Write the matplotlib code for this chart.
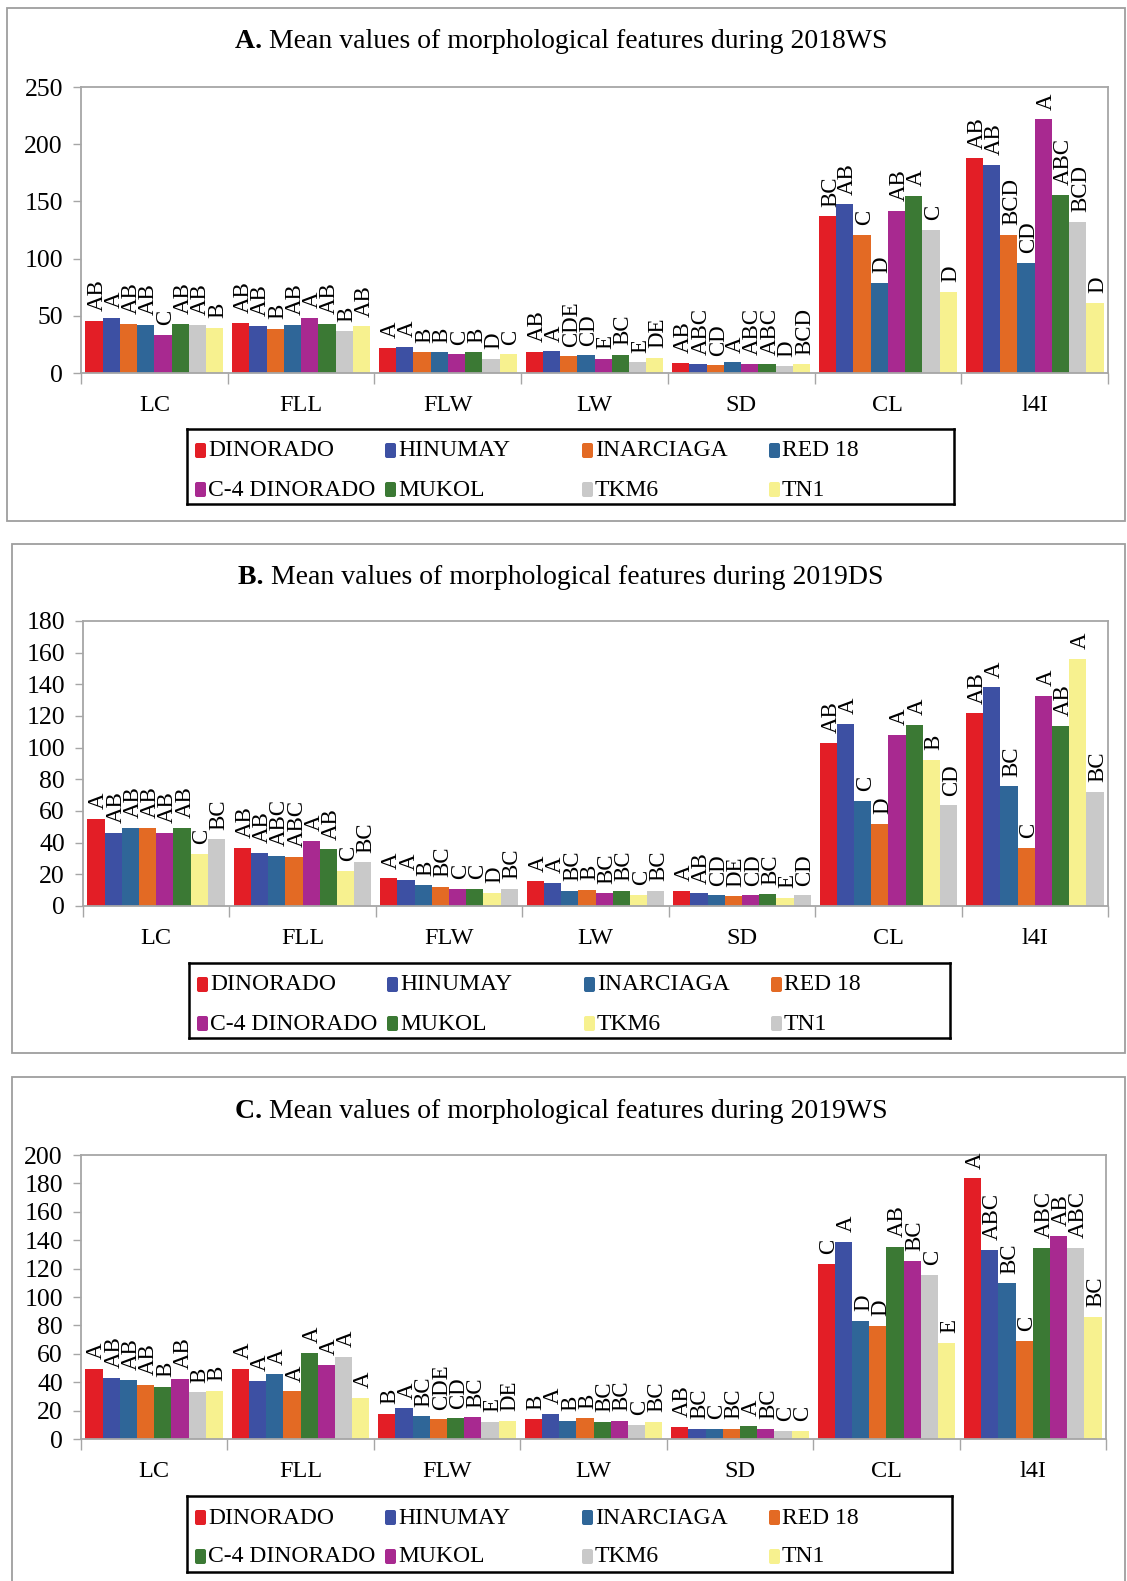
import matplotlib
matplotlib.use('Agg')
import matplotlib.pyplot as plt
from matplotlib.patches import Rectangle, FancyBboxPatch
import numpy as np

plt.rcParams['font.family'] = ['Liberation Serif', 'DejaVu Serif']

# ---------------- data ----------------
categories = ['LC', 'FLL', 'FLW', 'LW', 'SD', 'CL', 'l4I']
varieties = ['DINORADO', 'HINUMAY', 'INARCIAGA', 'RED 18',
             'C-4 DINORADO', 'MUKOL', 'TKM6', 'TN1']

# Panel A (2018WS): values per category, in variety order
A_LC = [45.3, 48.0, 43.0, 41.9, 33.4, 43.0, 41.9, 39.2]
A_FLL = [43.9, 41.0, 38.4, 41.9, 48.5, 43.0, 36.3, 40.7]
A_FLW = [22.1, 23.0, 18.0, 18.0, 16.3, 18.0, 12.5, 16.3]
A_LW = [18.3, 19.0, 14.5, 15.4, 12.2, 16.0, 9.3, 13.4]
A_SD = [8.7, 7.6, 6.7, 9.3, 7.6, 7.6, 5.8, 7.6]
A_CL = [137.0, 147.4, 120.6, 78.5, 141.6, 155.0, 125.3, 70.9]
A_I4I = [187.5, 181.7, 120.6, 96.5, 221.8, 155.8, 132.0, 61.3]
A_LC_sig = ['AB', 'A', 'AB', 'AB', 'C', 'AB', 'AB', 'B']
A_FLL_sig = ['AB', 'AB', 'B', 'AB', 'A', 'AB', 'B', 'AB']
A_FLW_sig = ['A', 'A', 'B', 'B', 'C', 'B', 'D', 'C']
A_LW_sig = ['AB', 'A', 'CDE', 'CD', 'E', 'BC', 'E', 'DE']
A_SD_sig = ['AB', 'ABC', 'CD', 'A', 'ABC', 'ABC', 'D', 'BCD']
A_CL_sig = ['BC', 'AB', 'C', 'D', 'AB', 'A', 'C', 'D']
A_I4I_sig = ['AB', 'AB', 'BCD', 'CD', 'A', 'ABC', 'BCD', 'D']

# Panel B (2019DS)
B_LC = [55.1, 46.2, 49.3, 49.3, 46.2, 49.3, 33.0, 42.1]
B_FLL = [36.6, 33.5, 31.8, 31.1, 41.1, 35.8, 22.0, 27.5]
B_FLW = [17.4, 16.3, 13.1, 12.3, 11.0, 10.6, 8.3, 10.6]
B_LW = [15.5, 14.4, 9.5, 10.4, 8.0, 9.5, 7.2, 9.5]
B_SD = [9.7, 8.0, 6.8, 6.1, 6.8, 7.4, 5.3, 6.8]
B_CL = [102.9, 115.2, 66.3, 51.7, 108.0, 114.6, 92.5, 63.5]
B_I4I = [121.6, 138.0, 75.6, 36.8, 132.6, 113.9, 155.9, 72.2]
B_LC_sig = ['A', 'AB', 'AB', 'AB', 'AB', 'AB', 'C', 'BC']
B_FLL_sig = ['AB', 'AB', 'ABC', 'ABC', 'A', 'AB', 'C', 'BC']
B_FLW_sig = ['A', 'A', 'B', 'BC', 'C', 'C', 'D', 'BC']
B_LW_sig = ['A', 'A', 'BC', 'B', 'BC', 'BC', 'C', 'BC']
B_SD_sig = ['A', 'AB', 'CD', 'DE', 'CD', 'BC', 'E', 'CD']
B_CL_sig = ['AB', 'A', 'C', 'D', 'A', 'A', 'B', 'CD']
B_I4I_sig = ['AB', 'A', 'BC', 'C', 'A', 'AB', 'A', 'BC']

# Panel C (2019WS)
C_LC = [49.2, 43.1, 41.4, 38.1, 36.9, 42.1, 32.9, 34.1]
C_FLL = [49.2, 40.7, 45.6, 33.6, 60.5, 52.2, 57.9, 29.2]
C_FLW = [17.6, 21.6, 16.0, 13.9, 14.6, 15.3, 12.0, 12.9]
C_LW = [13.9, 17.6, 12.9, 14.6, 12.2, 12.9, 9.9, 12.0]
C_SD = [8.5, 7.1, 7.1, 7.1, 9.2, 7.1, 5.9, 5.9]
C_CL = [123.3, 139.0, 83.0, 79.5, 135.5, 125.4, 115.5, 67.8]
C_I4I = [183.5, 133.2, 109.6, 69.2, 134.8, 143.0, 134.8, 86.1]
C_LC_sig = ['A', 'AB', 'AB', 'AB', 'B', 'AB', 'B', 'B']
C_FLL_sig = ['A', 'A', 'A', 'A', 'A', 'A', 'A', 'A']
C_FLW_sig = ['B', 'A', 'BC', 'CDE', 'CD', 'BC', 'E', 'DE']
C_LW_sig = ['B', 'A', 'B', 'B', 'BC', 'BC', 'C', 'BC']
C_SD_sig = ['AB', 'BC', 'C', 'BC', 'A', 'BC', 'C', 'C']
C_CL_sig = ['C', 'A', 'D', 'D', 'AB', 'BC', 'C', 'E']
C_I4I_sig = ['A', 'ABC', 'BC', 'C', 'ABC', 'AB', 'ABC', 'BC']

titles = ['A.', 'B.', 'C.']
seasons = ['2018WS', '2019DS', '2019WS']
y_max = [250, 180, 200]
y_step = [50, 20, 20]

# colours
RED, BLUE, ORANGE, STEEL = '#E31E26', '#3D50A3', '#E36A24', '#2F6698'
MAG, GREEN, GRAY, YEL = '#A82990', '#3B7934', '#C9C9C9', '#F7F18F'
colors_A = [RED, BLUE, ORANGE, STEEL, MAG, GREEN, GRAY, YEL]
colors_B = [RED, BLUE, STEEL, ORANGE, MAG, GREEN, YEL, GRAY]
colors_C = [RED, BLUE, STEEL, ORANGE, GREEN, MAG, GRAY, YEL]

panels = [
    ([A_LC, A_FLL, A_FLW, A_LW, A_SD, A_CL, A_I4I],
     [A_LC_sig, A_FLL_sig, A_FLW_sig, A_LW_sig, A_SD_sig, A_CL_sig, A_I4I_sig], colors_A),
    ([B_LC, B_FLL, B_FLW, B_LW, B_SD, B_CL, B_I4I],
     [B_LC_sig, B_FLL_sig, B_FLW_sig, B_LW_sig, B_SD_sig, B_CL_sig, B_I4I_sig], colors_B),
    ([C_LC, C_FLL, C_FLW, C_LW, C_SD, C_CL, C_I4I],
     [C_LC_sig, C_FLL_sig, C_FLW_sig, C_LW_sig, C_SD_sig, C_CL_sig, C_I4I_sig], colors_C),
]

# ---------------- layout (pixels) ----------------
W, H = 1127, 1581
fig = plt.figure(figsize=(W / 100, H / 100), dpi=100)
fig.patch.set_facecolor('white')
renderer = fig.canvas.get_renderer()


def rect(x0, y0, x1, y1):
    return [x0 / W, 1 - y1 / H, (x1 - x0) / W, (y1 - y0) / H]


frame_px = [(7, 8, 1125, 521), (12, 544, 1125, 1053), (12, 1077, 1125, 1620)]
plot_px = [(81, 87, 1108, 373), (83, 621, 1108, 906), (81, 1155, 1106, 1439)]
title_y = [42, 578, 1112]
legend_px = [(187, 429, 954, 504), (189, 963, 950, 1038), (187, 1496, 952, 1572)]

SPINE = '#A6A6A6'
TITLE_FS = 20
n_var = len(varieties)
group_w = 0.94
bw = group_w / n_var
x = np.arange(len(categories))

for p, (vals, sigs, cols) in enumerate(panels):
    fx0, fy0, fx1, fy1 = frame_px[p]
    fig.add_artist(Rectangle((fx0 / W, 1 - fy1 / H), (fx1 - fx0) / W, (fy1 - fy0) / H,
                             transform=fig.transFigure, fill=False, ec='#9E9E9E', lw=1.3))
    # title: bold label + normal text, centred as a whole
    t_bold = fig.text(0, 1 - title_y[p] / H, titles[p] + ' ', ha='left', va='center',
                      fontsize=TITLE_FS, fontweight='bold')
    t_norm = fig.text(0, 1 - title_y[p] / H,
                      'Mean values of morphological features during ' + seasons[p],
                      ha='left', va='center', fontsize=TITLE_FS)
    wb = t_bold.get_window_extent(renderer).width
    wn = t_norm.get_window_extent(renderer).width
    start = 561 - (wb + wn) / 2
    t_bold.set_x(start / W)
    t_norm.set_x((start + wb) / W)

    ax = fig.add_axes(rect(*plot_px[p]))
    vals_arr = np.array(vals)  # shape (categories, varieties)
    for j in range(n_var):
        xs = x - group_w / 2 + bw * (j + 0.5)
        ax.bar(xs, vals_arr[:, j], width=bw, color=cols[j], edgecolor='none', zorder=2)
        for i in range(len(categories)):
            ax.annotate(sigs[i][j], (xs[i], vals_arr[i, j]), xytext=(2, 7),
                        textcoords='offset points', rotation=90, ha='center', va='bottom',
                        fontsize=16.5, color='black', zorder=3)
    ax.set_xlim(-0.5, len(categories) - 0.5)
    ax.set_ylim(0, y_max[p])
    ax.set_yticks(np.arange(0, y_max[p] + 1, y_step[p]))
    ax.tick_params(axis='y', direction='out', length=6, width=1, color=SPINE,
                   labelsize=18.5, pad=7)
    ax.set_xticks(np.arange(len(categories) + 1) - 0.5)
    ax.set_xticklabels([''] * (len(categories) + 1))
    ax.tick_params(axis='x', which='major', direction='out', length=8, width=1, color=SPINE)
    ax.set_xticks(x, minor=True)
    ax.set_xticklabels(categories, minor=True)
    ax.tick_params(axis='x', which='minor', length=0, labelsize=17.5, pad=16)
    for s in ax.spines.values():
        s.set_color(SPINE)
        s.set_linewidth(1.3)

    # legend box (Excel style, evenly spaced columns)
    lx0, ly0, lx1, ly1 = legend_px[p]
    lw_, lh_ = lx1 - lx0, ly1 - ly0
    lax = fig.add_axes(rect(*legend_px[p]))
    lax.set_xlim(0, lw_)
    lax.set_ylim(lh_, 0)
    lax.set_xticks([])
    lax.set_yticks([])
    for s in lax.spines.values():
        s.set_color('black')
        s.set_linewidth(1.8)
    col_x = [8, 198, 395, 582]
    row_y = [21, 60]
    for k, name in enumerate(varieties):
        r, c = divmod(k, 4)
        mx, my = col_x[c], row_y[r]
        lax.add_patch(FancyBboxPatch((mx, my - 7), 11, 15,
                                     boxstyle='round,pad=0,rounding_size=2',
                                     fc=cols[k], ec='none'))
        lax.text(mx + 13, my + 1, name, ha='left', va='center', fontsize=17)

fig.savefig('out.png', dpi=100, facecolor='white')
